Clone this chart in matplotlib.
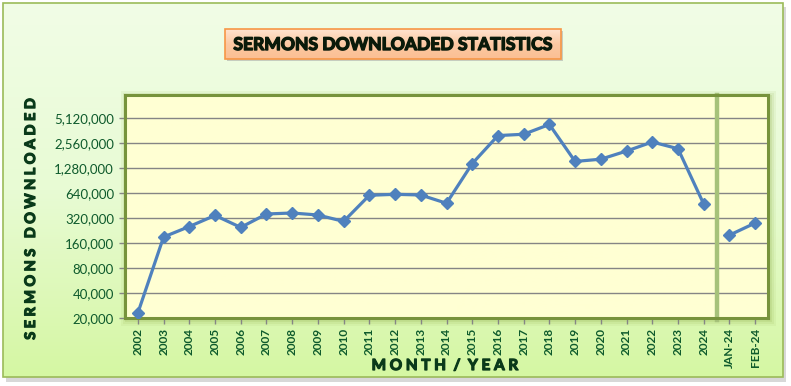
import numpy as np
import matplotlib.pyplot as plt
import matplotlib.patheffects as pe
from matplotlib.patches import Rectangle
from matplotlib.colors import LinearSegmentedColormap
from matplotlib.ticker import FixedLocator, NullLocator

# data (log2 axis)
years = [str(y) for y in range(2002, 2025)]
months = ["JAN-24", "FEB-24"]
year_downloads = [23000, 190000, 254000, 346000, 248000, 360000, 370000, 350000,
                  293000, 605000, 622000, 610000, 485000, 1460000, 3180000,
                  3300000, 4330000, 1550000, 1650000, 2070000, 2660000,
                  2210000, 475000]
month_downloads = [200000, 280000]
y_ticks = [20000, 40000, 80000, 160000, 320000, 640000, 1280000, 2560000, 5120000]

labels = years + months
x_years = np.arange(len(years))
x_months = np.arange(len(years), len(labels))

LINE = "#4F81BD"
OLIVE = "#77933C"
TXT = "#0E5A2C"

fig = plt.figure(figsize=(7.91, 3.86), dpi=100)
W, H = 791, 386

# background: outer chart box with gradient
bg = fig.add_axes([0, 0, 1, 1], zorder=0)
bg.set_xlim(0, W)
bg.set_ylim(H, 0)
bg.axis("off")
bg.add_patch(Rectangle((6, 7), 780, 375, color="#BEBEBE", alpha=0.6, lw=0))
grad = LinearSegmentedColormap.from_list("g", ["#F1FDE6", "#E8FBD4", "#D5F7A3"])
bg.imshow(np.linspace(0, 1, 200).reshape(-1, 1), cmap=grad, aspect="auto",
          extent=(3, 783, 377, 3), zorder=1)
bg.add_patch(Rectangle((3, 3), 780, 374, fill=False, ec="#9BBB59", lw=1.2, zorder=2))

# plot area glow
for i, a in enumerate([0.10, 0.14, 0.2]):
    d = 6 - 2 * i
    bg.add_patch(Rectangle((125 - d + 2, 95 - d + 2), 643 + 2 * d, 223 + 2 * d,
                           color="#9BBB59", alpha=a, lw=0, zorder=2))

# title box
tgrad = LinearSegmentedColormap.from_list("t", ["#FFE3CF", "#FCC9A3", "#FBBF93"])
bg.add_patch(Rectangle((227, 31), 336, 30, color="#A0A0A0", alpha=0.5, lw=0, zorder=3))
bg.imshow(np.linspace(0, 1, 50).reshape(-1, 1), cmap=tgrad, aspect="auto",
          extent=(225, 561, 59, 29), zorder=4)
bg.add_patch(Rectangle((225, 29), 336, 30, fill=False, ec="#F79646", lw=1.2, zorder=5))
bg.text(392, 45, "SERMONS DOWNLOADED STATISTICS", ha="center", va="center",
        fontsize=12.6, fontweight="bold", family="Lato", color="#0A1A0A", zorder=6,
        path_effects=[pe.withStroke(linewidth=1.0, foreground="#0A1A0A")])

# axis titles (letter-spaced, heavy)
heavy = [pe.withStroke(linewidth=0.9, foreground="#0A3A1A")]
bg.text(31, 220, "S E R M O N S   D O W N L O A D E D", rotation=90,
        ha="center", va="center", fontsize=10.4, fontweight="bold",
        family="Lato", color="#0A3A1A", zorder=6, path_effects=heavy)
bg.text(445, 366, "M O N T H  /  Y E A R", ha="center", va="center",
        fontsize=11, fontweight="bold", family="Lato", color="#0A3A1A", zorder=6,
        path_effects=heavy)

# main plot
ax = fig.add_axes([125 / W, 1 - 318 / H, 643 / W, 223 / H], zorder=2)
ax.set_yscale("log", base=2)
ax.set_ylim(20000, 20000 * 2 ** 8.94)
ax.set_xlim(-0.5, len(labels) - 0.5)

pgrad = LinearSegmentedColormap.from_list("p", ["#FFFFFF", "#FFFFDA", "#FFFFD6", "#FFFFD3"])
ax.imshow(np.concatenate([np.linspace(0, 1, 10), np.ones(90)]).reshape(-1, 1),
          cmap=pgrad, aspect="auto", extent=(-0.5, len(labels) - 0.5, 20000, 20000 * 2 ** 8.94),
          zorder=0)

for t in y_ticks[1:]:
    ax.axhline(t, color="#858585", lw=1.0, zorder=1)

ax.plot(x_years, year_downloads, color=LINE, lw=2.3, marker="D", ms=6,
        mec=LINE, zorder=3)
ax.plot(x_months, month_downloads, color=LINE, lw=2.3, marker="D", ms=6,
        mec=LINE, zorder=3)

# separator between yearly and monthly values
ax.axvline(len(years) - 0.5, ymin=-0.01, ymax=1, color="#A6C27A", lw=3.2,
           zorder=2, clip_on=False)

ax.yaxis.set_major_locator(FixedLocator(y_ticks))
ax.yaxis.set_minor_locator(NullLocator())
ax.set_yticklabels([f"{t:,}" for t in y_ticks], family="Lato", fontsize=9.5, color=TXT)
ax.set_xticks(np.arange(len(labels)))
ax.set_xticklabels(labels, rotation=90, family="Lato", fontsize=8.5,
                   fontweight="bold", color=TXT)
ax.tick_params(axis="both", color="#858585", length=4, width=1)
ax.tick_params(axis="y", pad=4)
ax.tick_params(axis="x", pad=3)

for s in ax.spines.values():
    s.set_color(OLIVE)
    s.set_linewidth(2.2)

fig.savefig("out.png", dpi=100)
